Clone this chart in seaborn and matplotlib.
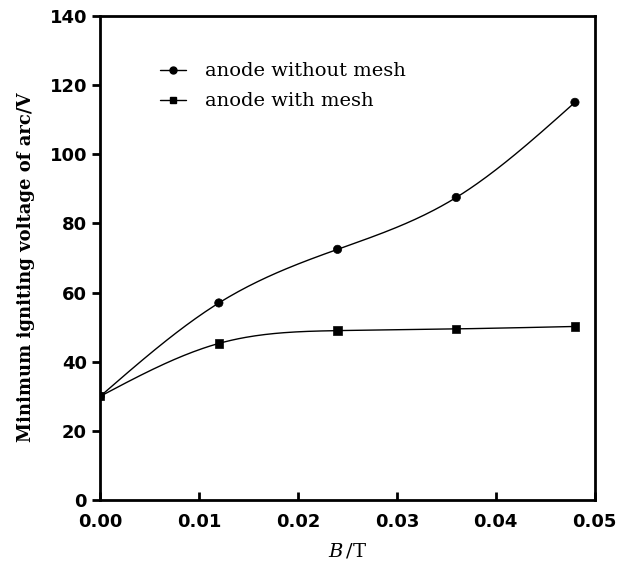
import numpy as np
import pandas as pd
import matplotlib
matplotlib.use("Agg")
import matplotlib.pyplot as plt
import seaborn as sns
from matplotlib.lines import Line2D

# data
B = [0.0, 0.012, 0.024, 0.036, 0.048]
without_mesh = [30, 57, 72.5, 87.5, 115]
with_mesh = [30, 45.3, 49, 49.5, 50.2]
labels = ["anode without mesh", "anode with mesh"]


def natural_spline(x, y, n=200):
    # smooth curve through the points (natural cubic spline), only for drawing
    x = np.asarray(x, float)
    y = np.asarray(y, float)
    k = len(x)
    h = np.diff(x)
    A = np.zeros((k, k))
    r = np.zeros(k)
    A[0, 0] = A[-1, -1] = 1
    for i in range(1, k - 1):
        A[i, i - 1] = h[i - 1]
        A[i, i] = 2 * (h[i - 1] + h[i])
        A[i, i + 1] = h[i]
        r[i] = 6 * ((y[i + 1] - y[i]) / h[i] - (y[i] - y[i - 1]) / h[i - 1])
    M = np.linalg.solve(A, r)
    xs = np.linspace(x[0], x[-1], n)
    idx = np.clip(np.searchsorted(x, xs) - 1, 0, k - 2)
    x0, x1 = x[idx], x[idx + 1]
    hh = x1 - x0
    t0, t1 = x1 - xs, xs - x0
    ys = (M[idx] * t0**3 + M[idx + 1] * t1**3) / (6 * hh) \
        + (y[idx] / hh - M[idx] * hh / 6) * t0 \
        + (y[idx + 1] / hh - M[idx + 1] * hh / 6) * t1
    return xs, ys


sns.set_theme(style="ticks")
plt.rcParams["font.family"] = ["DejaVu Serif"]
plt.rcParams["mathtext.fontset"] = "dejavuserif"
plt.rcParams["text.color"] = "black"
plt.rcParams["axes.labelcolor"] = "black"
plt.rcParams["xtick.color"] = "black"
plt.rcParams["ytick.color"] = "black"

fig = plt.figure(figsize=(6.3, 5.67), dpi=100)
ax = fig.add_axes([0.159, 0.118, 0.785, 0.854])

df = pd.DataFrame({"B": B * 2,
                   "V": without_mesh + with_mesh,
                   "kind": [labels[0]] * 5 + [labels[1]] * 5})

for lab, vals in zip(labels, [without_mesh, with_mesh]):
    xs, ys = natural_spline(B, vals)
    ax.plot(xs, ys, color="black", lw=1.0)

sns.scatterplot(data=df, x="B", y="V", style="kind", markers=["o", "s"],
                color="black", s=36, edgecolor="black", legend=False, ax=ax,
                zorder=3)

ax.set_xlim(0, 0.05)
ax.set_ylim(0, 140)
ax.set_xticks(np.arange(0, 0.051, 0.01))
ax.set_xticklabels([f"{v:.2f}" for v in np.arange(0, 0.051, 0.01)])
ax.set_yticks(range(0, 141, 20))
for s in ax.spines.values():
    s.set_linewidth(2.0)
    s.set_color("black")
ax.tick_params(axis="x", direction="in", length=6, width=2, pad=9)
ax.tick_params(axis="y", direction="out", length=6, width=2)
for t in ax.get_xticklabels() + ax.get_yticklabels():
    t.set_fontweight("bold")
    t.set_fontfamily("DejaVu Sans")
    t.set_fontsize(13)

ax.set_xlabel(r"$B\,$/T", fontsize=14, labelpad=8)
ax.set_ylabel("Minimum igniting voltage of arc/V", fontsize=13,
              fontweight="bold")
ax.yaxis.set_label_coords(-0.132, 0.48)

handles = [Line2D([], [], color="black", lw=1, marker="o", markersize=5),
           Line2D([], [], color="black", lw=1, marker="s", markersize=5)]
ax.legend(handles, labels, loc="upper left", bbox_to_anchor=(0.085, 0.94),
          frameon=False, fontsize=14, handlelength=1.35, handletextpad=1.0,
          labelspacing=0.62)

fig.savefig("out.png", dpi=100)
